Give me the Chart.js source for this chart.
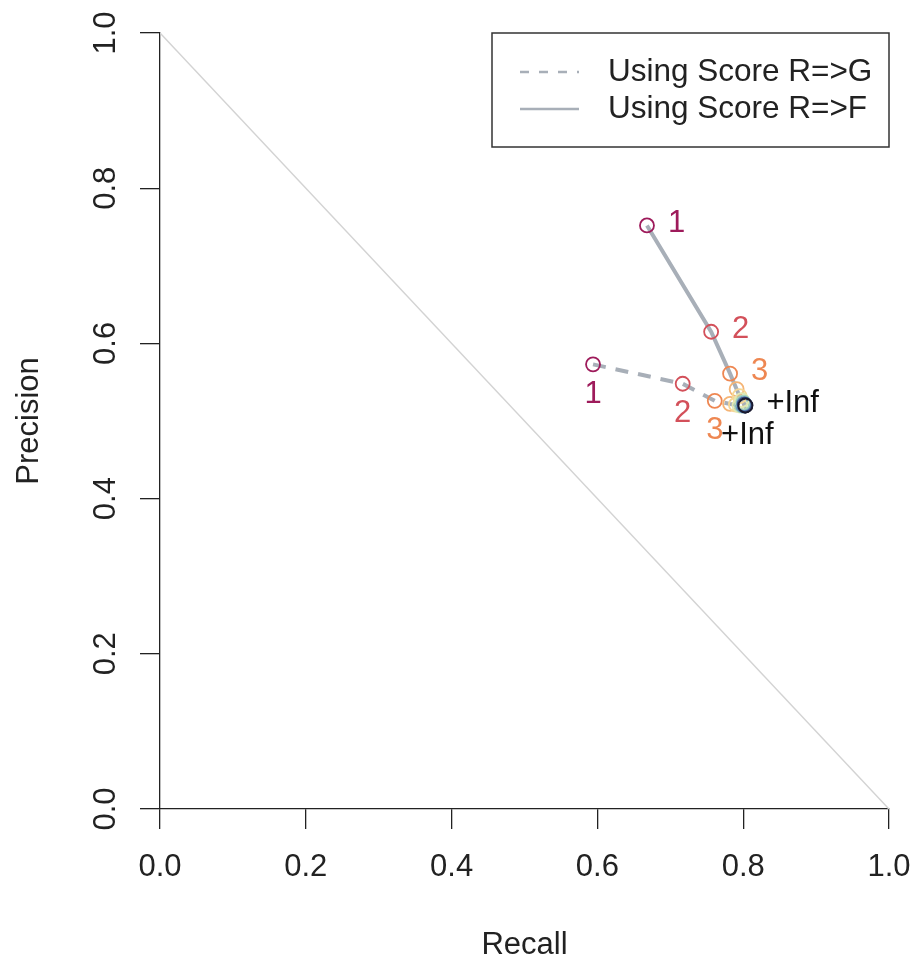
<!DOCTYPE html>
<html>
<head>
<meta charset="utf-8">
<script src="https://cdn.jsdelivr.net/npm/chart.js@4/dist/chart.umd.min.js"></script>
<style>
  html, body { margin: 0; padding: 0; background: #fff; }
  #wrap { width: 912px; height: 958px; }
</style>
</head>
<body>
<div id="wrap"><canvas id="pr-chart" width="912" height="958"></canvas></div>
<script>
// values
const recallF = [0.668, 0.756, 0.782, 0.791, 0.795, 0.798, 0.800, 0.801, 0.802, 0.803];
const precisionF = [0.752, 0.615, 0.561, 0.541, 0.532, 0.527, 0.524, 0.522, 0.521, 0.520];
const labelsF = ['1', '2', '3', '', '', '', '', '', '', '+Inf'];

const recallG = [0.594, 0.717, 0.761, 0.782, 0.790, 0.795, 0.798, 0.800, 0.802, 0.803];
const precisionG = [0.573, 0.548, 0.526, 0.522, 0.521, 0.520, 0.520, 0.520, 0.520, 0.520];
const labelsG = ['1', '2', '3', '', '', '', '', '', '', '+Inf'];

const pointColors = ['#9e1b5b', '#d3505a', '#ee8752', '#f5b475', '#f6d796',
                     '#e2e9b2', '#a9d3b7', '#6c9ec0', '#3b4e8a', '#1a1a2e'];

const diagX = [0, 1];
const diagY = [1, 0];

const xTickLabels = ['0.0', '0.2', '0.4', '0.6', '0.8', '1.0'];
const yTickLabels = ['0.0', '0.2', '0.4', '0.6', '0.8', '1.0'];

const legendNames = ['Using Score R=>G', 'Using Score R=>F'];

const FONT = "'Liberation Sans', Arial, Helvetica, sans-serif";
const INK = '#222222';
const LINE_GREY = '#a8afb8';

function toPoints(xs, ys) {
  return xs.map((x, i) => ({ x, y: ys[i] }));
}

const labelPlugin = {
  id: 'pointLabels',
  afterDatasetsDraw(chart) {
    const ctx = chart.ctx;
    ctx.save();
    ctx.font = '31px ' + FONT;
    ctx.textBaseline = 'middle';
    const sets = [
      { index: 0, labels: labelsG, below: true },
      { index: 1, labels: labelsF, below: false }
    ];
    sets.forEach(s => {
      const meta = chart.getDatasetMeta(s.index);
      meta.data.forEach((pt, i) => {
        const txt = s.labels[i];
        if (!txt) return;
        ctx.fillStyle = txt === '+Inf' ? '#111111' : pointColors[i];
        if (s.below) {
          ctx.textAlign = 'center';
          ctx.fillText(txt, pt.x + (txt === '+Inf' ? 2 : 0), pt.y + 30);
        } else {
          ctx.textAlign = 'left';
          ctx.fillText(txt, pt.x + 21, pt.y - 2);
        }
      });
    });
    ctx.restore();
  }
};

const legendPlugin = {
  id: 'boxLegend',
  afterDraw(chart) {
    const { ctx, chartArea } = chart;
    const w = 397, h = 114;
    const left = chartArea.right - w;
    const top = chartArea.top;
    ctx.save();
    ctx.fillStyle = '#ffffff';
    ctx.fillRect(left, top, w, h);
    ctx.strokeStyle = '#333333';
    ctx.lineWidth = 1.5;
    ctx.strokeRect(left, top, w, h);

    const rows = [top + 39, top + 76];
    ctx.strokeStyle = LINE_GREY;
    ctx.lineWidth = 2.5;
    ctx.setLineDash([9, 10]);
    ctx.beginPath();
    ctx.moveTo(left + 28, rows[0]);
    ctx.lineTo(left + 87, rows[0]);
    ctx.stroke();
    ctx.setLineDash([]);
    ctx.beginPath();
    ctx.moveTo(left + 28, rows[1]);
    ctx.lineTo(left + 87, rows[1]);
    ctx.stroke();

    ctx.fillStyle = INK;
    ctx.font = '31.5px ' + FONT;
    ctx.textAlign = 'left';
    ctx.textBaseline = 'middle';
    ctx.fillText(legendNames[0], left + 116, rows[0]);
    ctx.fillText(legendNames[1], left + 116, rows[1]);
    ctx.restore();
  }
};

const ctx = document.getElementById('pr-chart');

new Chart(ctx, {
  type: 'scatter',
  data: {
    datasets: [
      {
        label: legendNames[0],
        data: toPoints(recallG, precisionG),
        showLine: true,
        borderColor: LINE_GREY,
        borderWidth: 4,
        borderDash: [13, 10],
        pointRadius: 7,
        pointBorderWidth: 1.8,
        pointBackgroundColor: 'rgba(0,0,0,0)',
        pointBorderColor: pointColors,
        order: 2
      },
      {
        label: legendNames[1],
        data: toPoints(recallF, precisionF),
        showLine: true,
        borderColor: LINE_GREY,
        borderWidth: 4,
        pointRadius: 7,
        pointBorderWidth: 1.8,
        pointBackgroundColor: 'rgba(0,0,0,0)',
        pointBorderColor: pointColors,
        order: 1
      },
      {
        label: 'diagonal',
        data: toPoints(diagX, diagY),
        showLine: true,
        borderColor: '#d3d3d3',
        borderWidth: 1.5,
        pointRadius: 0,
        order: 10
      }
    ]
  },
  options: {
    responsive: false,
    animation: false,
    events: [],
    layout: { padding: { top: 33, right: 23, left: 0, bottom: 0 } },
    plugins: {
      legend: { display: false },
      tooltip: { enabled: false }
    },
    scales: {
      x: {
        type: 'linear',
        min: 0,
        max: 1,
        afterFit(scale) {
          scale.height = 149;
          scale.paddingLeft = 0;
          scale.paddingRight = 0;
        },
        ticks: {
          stepSize: 0.2,
          color: INK,
          padding: 20,
          maxRotation: 0,
          font: { size: 31, family: FONT },
          callback: (v, i) => xTickLabels[i]
        },
        grid: {
          drawOnChartArea: false,
          drawTicks: true,
          tickLength: 20,
          color: INK,
          lineWidth: 1.3
        },
        border: { display: true, color: INK, width: 1.3 },
        title: {
          display: true,
          text: 'Recall',
          color: INK,
          font: { size: 31, family: FONT, lineHeight: 0.8 },
          padding: { top: 0, bottom: 0 }
        }
      },
      y: {
        type: 'linear',
        min: 0,
        max: 1,
        afterFit(scale) {
          scale.width = 160;
          scale.paddingTop = 0;
          scale.paddingBottom = 0;
        },
        ticks: {
          stepSize: 0.2,
          color: INK,
          padding: 12,
          minRotation: 90,
          maxRotation: 90,
          crossAlign: 'center',
          font: { size: 31, family: FONT },
          callback: (v, i) => yTickLabels[i]
        },
        grid: {
          drawOnChartArea: false,
          drawTicks: true,
          tickLength: 20,
          color: INK,
          lineWidth: 1.3
        },
        border: { display: true, color: INK, width: 1.3 },
        title: {
          display: true,
          text: 'Precision',
          color: INK,
          font: { size: 31, family: FONT, lineHeight: 1 },
          padding: { top: 14, bottom: 0 }
        }
      }
    }
  },
  plugins: [labelPlugin, legendPlugin]
});
</script>
</body>
</html>
